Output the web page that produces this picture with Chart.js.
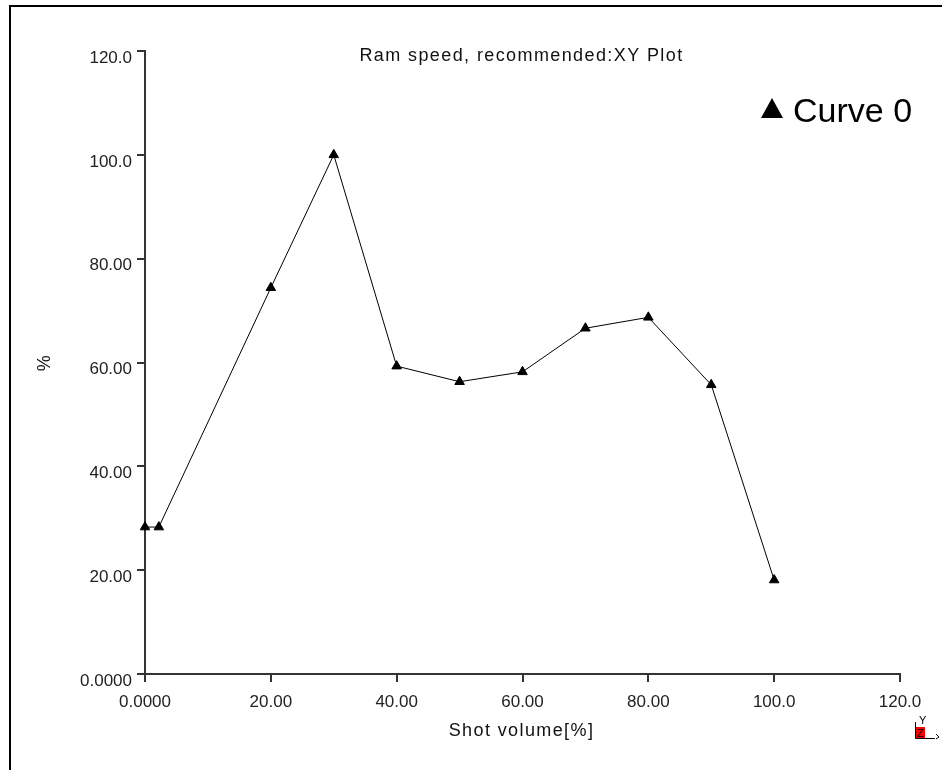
<!DOCTYPE html>
<html>
<head>
<meta charset="utf-8">
<script src="https://cdn.jsdelivr.net/npm/chart.js@4"></script>
<style>
  html, body { margin: 0; padding: 0; background: #fff; }
  #wrap { position: relative; width: 942px; height: 770px; overflow: hidden; }
  #frame { position: absolute; left: 9px; top: 5px; width: 960px; height: 800px;
           border-left: 2px solid #000; border-top: 2px solid #000; pointer-events: none; }
  canvas { position: absolute; left: 0; top: 0; }
</style>
</head>
<body>
<div id="wrap">
  <canvas id="c" width="942" height="770"></canvas>
  <div id="frame"></div>
</div>
<script>
// ---- data ----
const chartTitle = 'Ram speed, recommended:XY Plot';
const xAxisTitle = 'Shot volume[%]';
const yAxisTitle = '%';
const seriesName = 'Curve 0';
const shotVolume = [0, 2.2, 20, 30, 40, 50, 60, 70, 80, 90, 100];
const ramSpeed   = [28.3, 28.3, 74.4, 100, 59.3, 56.3, 58.2, 66.6, 68.7, 55.7, 18.1];
const xTickLabels = ['0.0000', '20.00', '40.00', '60.00', '80.00', '100.0', '120.0'];
const yTickLabels = ['0.0000', '20.00', '40.00', '60.00', '80.00', '100.0', '120.0'];

const points = shotVolume.map((x, i) => ({ x: x, y: ramSpeed[i] }));
const FONT = '"Liberation Sans", Arial, sans-serif';
const AXIS = '#333';

const overlay = {
  id: 'overlay',
  afterDraw(chart) {
    const ctx = chart.ctx;
    const a = chart.chartArea;
    const cx = (a.left + a.right) / 2;
    ctx.save();
    ctx.fillStyle = '#111';
    // title
    ctx.font = '18px ' + FONT;
    ctx.letterSpacing = '1.4px';
    ctx.textAlign = 'center';
    ctx.textBaseline = 'alphabetic';
    ctx.fillText(chartTitle, cx - 1, a.top + 10);
    // x title
    ctx.fillText(xAxisTitle, cx - 1, a.bottom + 62);
    // y title
    ctx.save();
    ctx.translate(45.5, (a.top + a.bottom) / 2);
    ctx.rotate(-Math.PI / 2);
    ctx.textBaseline = 'middle';
    ctx.fillText(yAxisTitle, 0, 0);
    ctx.restore();
    ctx.letterSpacing = '0px';
    // legend
    const lx = a.right - 139, ly = a.top + 47;
    ctx.fillStyle = '#000';
    ctx.beginPath();
    ctx.moveTo(lx + 11, ly);
    ctx.lineTo(lx + 22, ly + 20);
    ctx.lineTo(lx, ly + 20);
    ctx.closePath();
    ctx.fill();
    ctx.font = '34px ' + FONT;
    ctx.textAlign = 'left';
    ctx.fillText(seriesName, lx + 32, ly + 24);
    // triad icon
    const tx = 915, ty = 738;
    ctx.fillStyle = '#f00';
    ctx.fillRect(tx, ty - 11, 10, 11);
    ctx.strokeStyle = '#000';
    ctx.lineWidth = 1;
    ctx.beginPath();
    ctx.moveTo(tx + 0.5, ty - 16); ctx.lineTo(tx + 0.5, ty + 0.5); ctx.lineTo(tx + 20, ty + 0.5);
    ctx.stroke();
    ctx.beginPath();
    ctx.moveTo(tx + 21, ty - 4); ctx.lineTo(tx + 24, ty - 1); ctx.lineTo(tx + 21, ty + 1);
    ctx.stroke();
    ctx.fillStyle = '#000';
    ctx.font = '11px ' + FONT;
    ctx.fillText('Y', tx + 4, ty - 14);
    ctx.fillText('Z', tx + 2, ty - 1);
    ctx.restore();
  }
};

new Chart(document.getElementById('c'), {
  type: 'line',
  data: {
    datasets: [{
      label: seriesName,
      data: points,
      borderColor: '#000',
      borderWidth: 1,
      backgroundColor: '#000',
      pointStyle: 'triangle',
      pointRadius: 5.5,
      pointBorderWidth: 1,
      pointBorderColor: '#000',
      pointBackgroundColor: '#000',
      tension: 0,
      fill: false,
      clip: false
    }]
  },
  options: {
    responsive: false,
    devicePixelRatio: 1,
    animation: false,
    layout: { padding: { left: 10, top: 51, right: 42, bottom: 0 } },
    plugins: { legend: { display: false }, title: { display: false }, tooltip: { enabled: false } },
    scales: {
      x: {
        type: 'linear',
        min: 0, max: 120,
        afterFit(s) { s.height = 96; },
        border: { display: true, color: AXIS, width: 2 },
        grid: { drawOnChartArea: false, drawTicks: true, tickLength: 8, color: AXIS, lineWidth: 2 },
        ticks: {
          stepSize: 20, color: '#222', font: { family: FONT, size: 17 }, padding: 10,
          maxRotation: 0, autoSkip: false,
          callback: (v, i) => xTickLabels[i]
        }
      },
      y: {
        type: 'linear',
        min: 0, max: 120,
        afterFit(s) { s.width = 135; },
        border: { display: true, color: AXIS, width: 2 },
        grid: { drawOnChartArea: false, drawTicks: true, tickLength: 8, color: AXIS, lineWidth: 2 },
        ticks: {
          stepSize: 20, color: '#222', font: { family: FONT, size: 17 }, padding: 5,
          labelOffset: 7, autoSkip: false,
          callback: (v, i) => yTickLabels[i]
        }
      }
    }
  },
  plugins: [overlay]
});
</script>
</body>
</html>
